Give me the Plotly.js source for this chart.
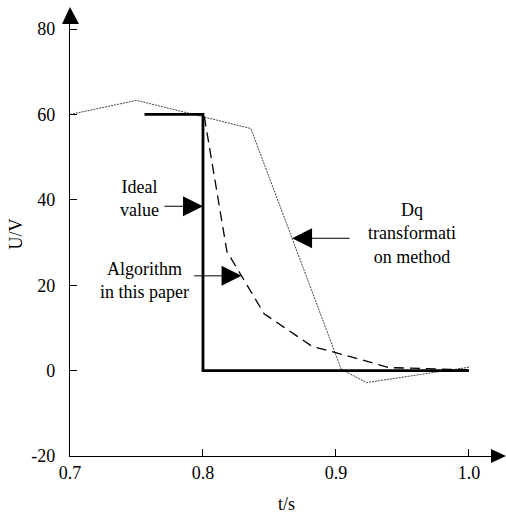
<!DOCTYPE html>
<html>
<head>
<meta charset="utf-8">
<script src="https://cdn.plot.ly/plotly-3.0.1.min.js"></script>
<style>html,body{margin:0;padding:0;background:#fff;}#chart{width:506px;height:518px;}</style>
</head>
<body>
<div id="chart"></div>
<script>
// Data
const idealT = [0.756, 0.8, 0.8, 1.0];
const idealU = [60, 60, 0, 0];
const algoT = [0.801, 0.818, 0.846, 0.882, 0.914, 0.94, 1.0];
const algoU = [59.5, 27.9, 13.3, 5.7, 3.0, 0.7, 0.2];
const dqT = [0.7, 0.75, 0.836, 0.904, 0.923, 1.0];
const dqU = [60, 63.3, 56.7, 0.3, -2.8, 0.8];
const xTicks = [0.7, 0.8, 0.9, 1.0];
const xTickText = ["0.7", "0.8", "0.9", "1.0"];
const yTicks = [-20, 0, 20, 40, 60, 80];
const yTickText = ["-20", "0", "20", "40", "60", "80"];

const FONT = "'Liberation Serif', 'Times New Roman', serif";

const traces = [
  {x: dqT, y: dqU, mode: "lines", name: "Dq transformation method",
   line: {color: "#444", width: 1, dash: "2px,1px"}, cliponaxis: false},
  {x: algoT, y: algoU, mode: "lines", name: "Algorithm in this paper",
   line: {color: "#000", width: 1.3, dash: "10px,6px"}, cliponaxis: false},
  {x: idealT, y: idealU, mode: "lines", name: "Ideal value",
   line: {color: "#000", width: 2.8}, cliponaxis: false}
];

const txt = (x, y, t) => ({x: x, y: y, xref: "x", yref: "y", text: t, showarrow: false,
  font: {family: FONT, size: 18, color: "#000"}, align: "center"});
const arr = (x, y, ax) => ({x: x, y: y, xref: "x", yref: "y", text: "", showarrow: true,
  ax: ax, ay: 0, arrowhead: 2, arrowsize: 4, arrowwidth: 1, arrowcolor: "#000", standoff: 0});

const layout = {
  width: 506, height: 518,
  margin: {l: 70, r: 3, t: 12, b: 62},
  paper_bgcolor: "#fff", plot_bgcolor: "#fff",
  showlegend: false,
  font: {family: FONT, size: 18, color: "#000"},
  xaxis: {
    range: [0.7, 1.0256], tickvals: xTicks, ticktext: xTickText,
    ticks: "inside", ticklen: 7, tickcolor: "#000", tickwidth: 1,
    showline: true, linecolor: "#000", linewidth: 1.2,
    showgrid: false, zeroline: false,
    tickfont: {family: FONT, size: 18, color: "#000"},
    title: {text: "t/s", font: {family: FONT, size: 18, color: "#000"}, standoff: 15}
  },
  yaxis: {
    range: [-20, 84], tickvals: yTicks, ticktext: yTickText,
    ticks: "inside", ticklen: 7, tickcolor: "#000", tickwidth: 1,
    showline: true, linecolor: "#000", linewidth: 1.2,
    showgrid: false, zeroline: false, ticklabelstandoff: 10,
    tickfont: {family: FONT, size: 18, color: "#000"},
    title: {text: "U/V", font: {family: FONT, size: 18, color: "#000"}, standoff: 4}
  },
  shapes: [
    {type: "path", xref: "paper", yref: "paper", xsizemode: "pixel", ysizemode: "pixel",
     xanchor: 0, yanchor: 1, path: "M-8,-12 L9,-12 L0,5 Z",
     fillcolor: "#000", line: {width: 0}},
    {type: "path", xref: "paper", yref: "paper", xsizemode: "pixel", ysizemode: "pixel",
     xanchor: 1, yanchor: 0, path: "M-12,-7 L-12,7 L3,0 Z",
     fillcolor: "#000", line: {width: 0}}
  ],
  annotations: [
    txt(0.7525, 40.2, "Ideal<br>value"),
    txt(0.756, 21.2, "Algorithm<br>in this paper"),
    txt(0.957, 32.2, "Dq<br>transformati<br>on method"),
    arr(0.8, 38.5, -40),
    arr(0.829, 22.2, -49),
    arr(0.867, 31, 59)
  ]
};

Plotly.newPlot("chart", traces, layout, {staticPlot: true, displayModeBar: false});
</script>
</body>
</html>
